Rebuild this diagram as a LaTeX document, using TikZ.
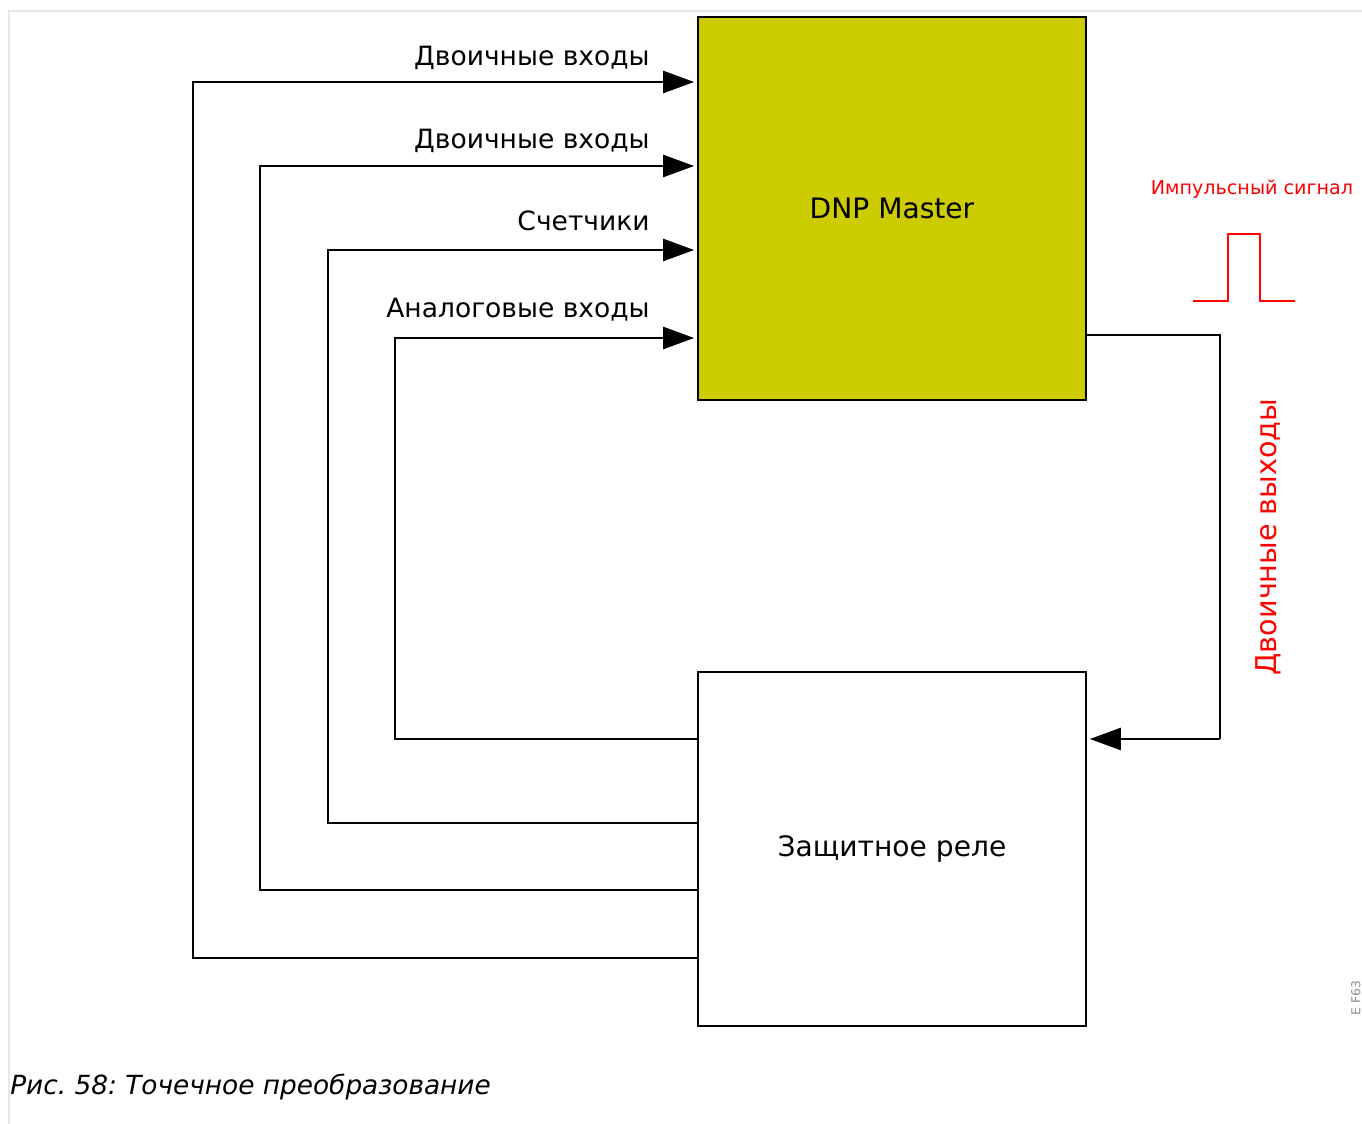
\documentclass[tikz,border=0pt]{standalone}
\usepackage{fontspec}
\setmainfont{DejaVu Sans}
\usepackage{xcolor}
\usetikzlibrary{arrows.meta}
\usetikzlibrary{positioning}
\definecolor{dnpyellow}{RGB}{204,204,0}
\definecolor{sigred}{RGB}{255,0,0}
\frenchspacing

\begin{document}
\begin{tikzpicture}[x=0.02cm,y=-0.02cm,
        block/.style={draw,line width=1.4pt,minimum width=7.76cm,inner sep=0pt},
        link/.style={line width=1.4pt,-{Triangle[length=0.62cm,width=0.44cm]}},
        wire/.style={line width=1.4pt},
        lbl/.style={anchor=base east,inner sep=0pt,font=\fontsize{15.1}{18}\selectfont}]
        \useasboundingbox (0,0) rectangle (1362,1124);
        % frame
        \draw[black!9,line width=1.2pt] (9,1124) -- (9,11) -- (1362,11);
        % blocks
        \node[block,fill=dnpyellow,minimum height=7.66cm,font=\fontsize{16}{19}\selectfont] (dnp) at (892,208.5) {DNP Master};
        \node[block,fill=white,minimum height=7.08cm,font=\fontsize{16}{19}\selectfont] (relay) at (892,849) {Защитное реле};
        % inputs of the master
        \draw[link,shorten >=1.5pt] (relay.west |- 0,958) -| (193,82) -- (dnp.west |- 0,82);
        \draw[link,shorten >=1.5pt] (relay.west |- 0,890) -| (260,166) -- (dnp.west |- 0,166);
        \draw[link,shorten >=1.5pt] (relay.west |- 0,823) -| (328,250) -- (dnp.west |- 0,250);
        \draw[link,shorten >=1.5pt] (relay.west |- 0,739) -| (395,338) -- (dnp.west |- 0,338);
        \node[lbl] (bin1) at (650,66) {Двоичные входы};
        \node[lbl] (bin2) at (650,149) {Двоичные входы};
        \node[lbl] (cnt) at (650,231) {Счетчики};
        \node[lbl] (ana) at (650,318) {Аналоговые входы};
        % outputs back to the relay
        \coordinate (turn) at (1220,335);
        \draw[wire] (dnp.east |- turn) -- (turn) -- (turn |- 0,739);
        \draw[link] (turn |- 0,739) -- ([xshift=1.5pt]relay.east |- 0,739);
        \node[sigred,rotate=90,font=\fontsize{16.3}{20}\selectfont] (bout) at (1268,537) {Двоичные выходы};
        % pulse
        \node[sigred,font=\fontsize{10.9}{13}\selectfont] (pulse) at (1252,189) {Импульсный сигнал};
        \draw[sigred,line width=0.9pt] (1193,301) -- (1228,301) -- (1228,234) -- (1260,234) -- (1260,301) -- (1295,301);
        % caption
        \node[anchor=base west,inner sep=0pt,font=\fontsize{15}{18}\selectfont\itshape] (cap) at (10,1094) {Рис. 58: Точечное преобразование};
        \node[black!45,rotate=90,inner sep=0pt,font=\fontsize{7}{8}\selectfont] (fid) at (1356,998) {E F63};
    \end{tikzpicture}
\end{document}
